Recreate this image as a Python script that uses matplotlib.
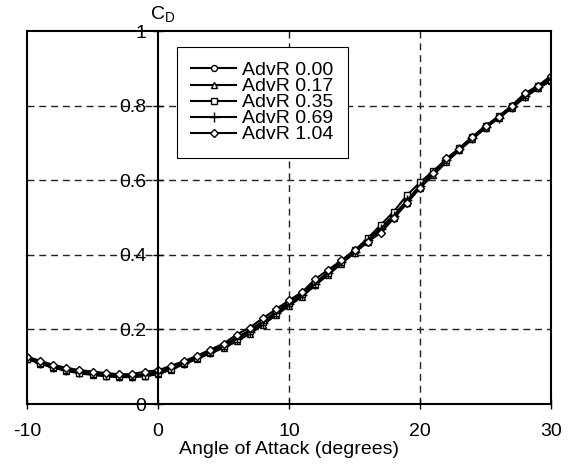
import numpy as np
import matplotlib
matplotlib.use("Agg")
from matplotlib import pyplot as plt

plt.rcParams['font.family'] = ['Liberation Sans', 'DejaVu Sans']
plt.rcParams['axes.unicode_minus'] = False

# angle of attack, one point per degree
alpha = list(range(-10, 31))

cd_000 = [0.125, 0.113, 0.102, 0.094, 0.088, 0.084, 0.080, 0.078, 0.077, 0.080,
          0.086, 0.098, 0.112, 0.127, 0.142, 0.158, 0.178, 0.198, 0.222, 0.247,
          0.272, 0.297, 0.325, 0.354, 0.382, 0.410, 0.440, 0.472, 0.506, 0.545,
          0.586, 0.620, 0.656, 0.685, 0.716, 0.744, 0.770, 0.798, 0.826, 0.852,
          0.875]
cd_017 = [0.121, 0.108, 0.097, 0.089, 0.082, 0.078, 0.074, 0.072, 0.072, 0.074,
          0.080, 0.092, 0.107, 0.121, 0.136, 0.150, 0.168, 0.188, 0.212, 0.238,
          0.263, 0.288, 0.318, 0.347, 0.376, 0.405, 0.434, 0.466, 0.500, 0.540,
          0.580, 0.613, 0.648, 0.680, 0.710, 0.740, 0.766, 0.793, 0.822, 0.846,
          0.866]
cd_035 = [0.122, 0.110, 0.098, 0.090, 0.084, 0.080, 0.076, 0.074, 0.074, 0.076,
          0.082, 0.095, 0.110, 0.124, 0.140, 0.155, 0.175, 0.195, 0.220, 0.245,
          0.270, 0.295, 0.322, 0.352, 0.380, 0.412, 0.444, 0.480, 0.516, 0.560,
          0.594, 0.625, 0.655, 0.686, 0.716, 0.745, 0.772, 0.798, 0.828, 0.852,
          0.870]
cd_069 = [0.123, 0.111, 0.100, 0.092, 0.086, 0.082, 0.078, 0.076, 0.075, 0.078,
          0.084, 0.096, 0.110, 0.125, 0.140, 0.155, 0.174, 0.194, 0.218, 0.243,
          0.268, 0.293, 0.322, 0.350, 0.380, 0.408, 0.440, 0.470, 0.505, 0.546,
          0.585, 0.620, 0.654, 0.684, 0.714, 0.743, 0.768, 0.796, 0.826, 0.850,
          0.872]
cd_104 = [0.127, 0.116, 0.105, 0.097, 0.091, 0.087, 0.083, 0.080, 0.080, 0.087,
          0.090, 0.103, 0.115, 0.130, 0.146, 0.162, 0.186, 0.205, 0.230, 0.254,
          0.278, 0.300, 0.335, 0.360, 0.385, 0.413, 0.435, 0.459, 0.498, 0.538,
          0.580, 0.620, 0.659, 0.684, 0.717, 0.745, 0.770, 0.800, 0.833, 0.853,
          0.880]

labels = ['AdvR 0.00', 'AdvR 0.17', 'AdvR 0.35', 'AdvR 0.69', 'AdvR 1.04']
markers = ['o', '^', 's', '+', 'D']
series = [cd_000, cd_017, cd_035, cd_069, cd_104]

fig = plt.figure(figsize=(5.7, 4.66), dpi=100)
ax = fig.add_axes([0.0474, 0.1330, 0.9193, 0.8004])

for cd, lab, m in zip(series, labels, markers):
    ms = 4.3
    if m == 'D':
        ms = 3.8
    if m == '+':
        ms = 6.5
    ax.plot(alpha, cd, color='black', lw=1.5, marker=m, markersize=ms,
            markerfacecolor='white', markeredgecolor='black', markeredgewidth=1.0,
            label=lab)

ax.set_xlim(-10, 30)
ax.set_ylim(0, 1)
ax.set_xticks([-10, 0, 10, 20, 30])
ax.set_yticks([0, 0.2, 0.4, 0.6, 0.8, 1.0])
ax.set_yticklabels(['0', '0.2', '0.4', '0.6', '0.8', '1'])

# y axis sits at zero incidence, box closed by an extra line at the left edge
ax.spines['left'].set_position(('data', 0))
for s in ax.spines.values():
    s.set_linewidth(1.5)
ax.axvline(-10, color='black', lw=1.5, clip_on=False, zorder=3)

ax.tick_params(axis='both', direction='inout', length=7, width=1.0,
               labelsize=14, colors='black')
ax.tick_params(axis='x', pad=10)
ax.tick_params(axis='y', pad=5)

# dashed grid lines
for yv in [0.2, 0.4, 0.6, 0.8]:
    ax.axhline(yv, color='#222222', lw=1.0, ls=(0, (5, 3.5)), zorder=0)
for xv in [10, 20]:
    ax.axvline(xv, color='#222222', lw=1.0, ls=(0, (5, 3.5)), zorder=0)

ax.set_xlabel('Angle of Attack (degrees)', fontsize=14, labelpad=1)
ax.annotate(r'C$_\mathregular{D}$', xy=(0, 1), xytext=(-6, 4),
            textcoords='offset points', ha='left', va='bottom', fontsize=14)

leg = ax.legend(loc='upper left', bbox_to_anchor=(0.286, 0.957), fontsize=14,
                frameon=True, fancybox=False, edgecolor='black', framealpha=1,
                handlelength=2.3, handletextpad=0.3, labelspacing=-0.08,
                borderpad=0.75, borderaxespad=0)
leg.get_frame().set_linewidth(0.8)

fig.savefig('out.png', dpi=100)
